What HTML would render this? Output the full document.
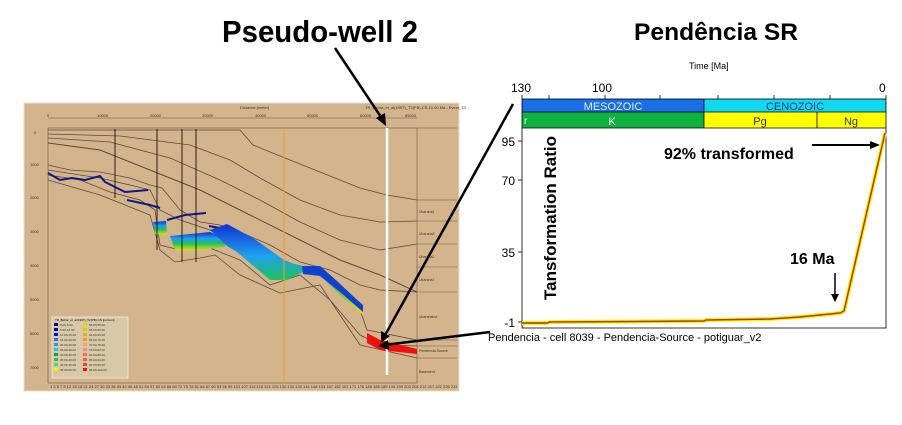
<!DOCTYPE html>
<html><head><meta charset="utf-8"><style>
html,body{margin:0;padding:0;background:#fff;}
svg{display:block;font-family:"Liberation Sans",Arial,sans-serif;}
</style></head><body>
<svg width="902" height="425" viewBox="0 0 902 425" xmlns="http://www.w3.org/2000/svg">
<defs>
<linearGradient id="g1" x1="0" y1="0" x2="0" y2="1">
<stop offset="0" stop-color="#1030d0"/><stop offset="0.35" stop-color="#20a0f0"/><stop offset="0.6" stop-color="#20c060"/><stop offset="1" stop-color="#f0e000"/>
</linearGradient>
</defs>
<text x="222" y="42" font-size="31" font-weight="bold" textLength="196" lengthAdjust="spacingAndGlyphs">Pseudo-well 2</text>
<text x="634" y="40" font-size="24" font-weight="bold" textLength="164" lengthAdjust="spacingAndGlyphs">Pendência SR</text>

<rect x="24" y="103" width="435" height="288" fill="#d4b48c" stroke="#e8dcc8"/>
<text x="240" y="109" font-size="4" fill="#333">Distance [meter]</text>
<text x="365" y="109" font-size="4" fill="#333">TR_Behar_et_al(1997)_T2(PB)-CS 10.00 Ma - Event_33</text>
<rect x="48" y="128" width="369" height="255" fill="none" stroke="#6a5a48" stroke-width="0.6"/>
<line x1="48" y1="118" x2="417" y2="118" stroke="#6a5a48" stroke-width="0.5"/>
<g font-size="4" fill="#333">
<text x="47" y="117">0</text><text x="97" y="117">10000</text><text x="150" y="117">20000</text><text x="202" y="117">30000</text><text x="255" y="117">40000</text><text x="307" y="117">50000</text><text x="360" y="117">60000</text><text x="405" y="117">65000</text>
<text x="34" y="134">0</text><text x="30" y="166">1000</text><text x="30" y="199">2000</text><text x="30" y="233">3000</text><text x="30" y="267">4000</text><text x="30" y="301">5000</text><text x="30" y="335">6000</text><text x="30" y="369">7000</text>
<text x="50" y="388">1 3 5 7 9 12 15 18 21 24 27 30 33 36 39 42 45 48 51 54 57 60 63 66 69 72 75 78 81 84 87 90 93 96 99 103 107 112 116 121 126 130 134 139 144 148 153 157 162 167 171 176 180 185 189 194 199 203 208 212 217 222 226 231</text>
</g>
<line x1="417" y1="128" x2="457" y2="128" stroke="#6a5a48" stroke-width="0.5"/>
<g stroke="#6a5a48" stroke-width="0.5">
<line x1="417" y1="200" x2="457" y2="200"/><line x1="417" y1="221" x2="457" y2="221"/><line x1="417" y1="244" x2="457" y2="244"/><line x1="417" y1="267" x2="457" y2="267"/><line x1="417" y1="292" x2="457" y2="292"/><line x1="417" y1="340" x2="457" y2="340"/><line x1="417" y1="346" x2="457" y2="346"/><line x1="417" y1="358" x2="457" y2="358"/>
</g>
<g font-size="3.5" fill="#333"><text x="419" y="213">Ubarana4</text><text x="419" y="235">Ubarana3</text><text x="419" y="258">Ubarana2</text><text x="419" y="281">Ubarana1</text><text x="419" y="318">Ubaranabot</text><text x="419" y="352">Pendencia-Source</text><text x="419" y="373">Basement</text></g>
<g fill="none" stroke="#5a4a3c" stroke-width="0.8">
<polyline points="48,130 240,130 253,145 290,160 320,172 360,188 387,195 417,200"/>
<polyline points="48,134 120,136 190,145 230,160 260,178 300,200 340,215 380,222 417,221"/>
<polyline points="48,138 110,142 170,158 220,180 260,200 300,222 340,240 380,250 417,244"/>
<polyline points="48,143 100,150 150,170 200,190 250,215 300,240 340,260 380,275 417,292" stroke-width="1"/>
<polyline points="48,165 70,170 100,172 130,178 150,185 162,188 180,210 200,222 220,225 240,232 270,245 300,262 330,270 360,285 380,290 417,292"/>
<polyline points="48,170 80,175 100,178 130,185 150,190 160,210 180,220 210,230 240,240 270,255 300,267 330,280 360,310 367,330 417,340"/>
<polyline points="48,175 80,180 110,192 140,200 155,210 160,245 180,250 210,248 240,260 270,285 300,275 330,300 360,335 380,345 417,346"/>
<polyline points="48,180 100,195 150,215 160,250 175,262 200,258 215,255 240,275 280,293 320,285 360,345 417,358"/>
</g>
<g stroke="#101888" stroke-width="2" fill="none">
<polyline points="48,173 60,180 72,178 85,180 100,176 105,182 125,192 148,190"/>
<polyline points="127,200 150,205 160,208"/>
<polyline points="167,220 185,215 206,213"/>
<polyline points="209,226 230,230 260,250 280,262 290,265"/>
</g>
<polygon points="153,222 166,221 167,235 155,234" fill="url(#g1)"/>
<polygon points="170,236 210,232 227,240 225,247 200,250 180,251 175,250" fill="url(#g1)"/>
<polygon points="210,230 227,224 253,238 287,262 303,266 320,267 337,282 363,305 363,315 340,295 320,275 303,272 287,280 270,280 237,252 227,246" fill="url(#g1)"/>
<polygon points="302,266 320,266 337,281 355,298 363,305 363,312 340,292 320,276 303,274" fill="#1040d0"/>
<polygon points="367,333 380,340 417,349 417,354 380,350 367,343" fill="#f01010"/>
<g stroke="#111" stroke-width="0.9">
<line x1="115" y1="129" x2="115" y2="198"/><line x1="157" y1="129" x2="157" y2="250"/><line x1="182" y1="129" x2="182" y2="262"/><line x1="196" y1="129" x2="196" y2="262"/>
</g>
<line x1="284" y1="129" x2="284" y2="383" stroke="#f0a020" stroke-width="1"/>
<line x1="387" y1="128" x2="387" y2="375" stroke="#fff" stroke-width="2.5"/>
<rect x="52" y="317" width="76" height="61" fill="#d8c8a8" stroke="#fff" stroke-width="0.5"/>
<text x="55" y="321" font-size="3">TR_Behar_et_al(1997)_T2(PB)-CS [percent]</text>
<g>
<rect x="54" y="323" width="4" height="3" fill="#000080"/><rect x="54" y="328" width="4" height="3" fill="#0000b0"/><rect x="54" y="333" width="4" height="3" fill="#0010e0"/><rect x="54" y="338" width="4" height="3" fill="#3070f0"/><rect x="54" y="343" width="4" height="3" fill="#20a0f0"/><rect x="54" y="348" width="4" height="3" fill="#20c0f0"/><rect x="54" y="353" width="4" height="3" fill="#10a040"/><rect x="54" y="358" width="4" height="3" fill="#20c060"/><rect x="54" y="363" width="4" height="3" fill="#40e060"/><rect x="54" y="368" width="4" height="3" fill="#f0f000"/>
<rect x="83" y="323" width="4" height="3" fill="#f0d000"/><rect x="83" y="328" width="4" height="3" fill="#f0c000"/><rect x="83" y="333" width="4" height="3" fill="#e0b020"/><rect x="83" y="338" width="4" height="3" fill="#f0a000"/><rect x="83" y="343" width="4" height="3" fill="#f0a080"/><rect x="83" y="348" width="4" height="3" fill="#f09070"/><rect x="83" y="353" width="4" height="3" fill="#f07050"/><rect x="83" y="358" width="4" height="3" fill="#f06040"/><rect x="83" y="363" width="4" height="3" fill="#f04030"/><rect x="83" y="368" width="4" height="3" fill="#f01010"/>
</g>
<g font-size="3" fill="#333">
<text x="60" y="326">0.00-5.00</text><text x="60" y="331">5.00-10.00</text><text x="60" y="336">10.00-15.00</text><text x="60" y="341">15.00-20.00</text><text x="60" y="346">20.00-25.00</text><text x="60" y="351">25.00-30.00</text><text x="60" y="356">30.00-35.00</text><text x="60" y="361">35.00-40.00</text><text x="60" y="366">40.00-45.00</text><text x="60" y="371">45.00-50.00</text>
<text x="89" y="326">50.00-55.00</text><text x="89" y="331">55.00-60.00</text><text x="89" y="336">60.00-65.00</text><text x="89" y="341">65.00-70.00</text><text x="89" y="346">70.00-75.00</text><text x="89" y="351">75.00-80.00</text><text x="89" y="356">80.00-85.00</text><text x="89" y="361">85.00-90.00</text><text x="89" y="366">90.00-95.00</text><text x="89" y="371">95.00-100.00</text>
</g>

<text x="689" y="69" font-size="9">Time [Ma]</text>
<g font-size="12"><text x="511" y="92">130</text><text x="592" y="92">100</text><text x="879" y="92">0</text></g>
<rect x="522" y="99" width="182" height="13" fill="#1a6ee6"/>
<rect x="704" y="99" width="182" height="13" fill="#10d8f0"/>
<rect x="522" y="112" width="182" height="16" fill="#10b040"/>
<rect x="704" y="112" width="113" height="16" fill="#ffff00"/>
<rect x="817" y="112" width="69" height="16" fill="#ffff00"/>
<g stroke="#000" stroke-width="0.8" fill="none">
<rect x="522" y="99" width="364" height="229"/>
<line x1="522" y1="112" x2="886" y2="112"/><line x1="522" y1="128" x2="886" y2="128"/>
<line x1="704" y1="99" x2="704" y2="128"/><line x1="817" y1="112" x2="817" y2="128"/>
<line x1="522" y1="95" x2="522" y2="99"/><line x1="549" y1="95" x2="549" y2="99"/><line x1="605" y1="95" x2="605" y2="99"/><line x1="660" y1="95" x2="660" y2="99"/><line x1="718" y1="95" x2="718" y2="99"/><line x1="774" y1="95" x2="774" y2="99"/><line x1="830" y1="95" x2="830" y2="99"/><line x1="886" y1="95" x2="886" y2="99"/>
<line x1="518" y1="141" x2="522" y2="141"/><line x1="518" y1="180" x2="522" y2="180"/><line x1="518" y1="252" x2="522" y2="252"/><line x1="518" y1="322" x2="522" y2="322"/>
</g>
<g font-size="11" fill="#fff" text-anchor="middle"><text x="613" y="110" fill="#e0f0ff">MESOZOIC</text><text x="612" y="125">K</text></g>
<g font-size="11" text-anchor="middle"><text x="795" y="110" fill="#0a3a80">CENOZOIC</text><text x="760" y="125" fill="#333">Pg</text><text x="851" y="125" fill="#333">Ng</text></g>
<text x="524" y="124" font-size="10" fill="#fff">r</text>
<g font-size="12" text-anchor="end"><text x="515" y="146">95</text><text x="515" y="185">70</text><text x="515" y="257">35</text><text x="515" y="327">-1</text></g>
<text transform="translate(556,300) rotate(-90)" font-size="17" font-weight="bold">Tansformation  Ratio</text>
<text x="664" y="159" font-size="16" font-weight="bold">92% transformed</text>
<line x1="812" y1="145" x2="872" y2="145" stroke="#000" stroke-width="2"/>
<polygon points="880,145 870,141 870,149" fill="#000"/>
<text x="790" y="264" font-size="16" font-weight="bold">16 Ma</text>
<line x1="835" y1="273" x2="835" y2="295" stroke="#000" stroke-width="1.5"/>
<polygon points="835,302 831,294 839,294" fill="#000"/>
<polyline points="522,323 547,323 550,322 704,321 706,320 770,319 800,317 840,313 844,311 885,133" fill="none" stroke="#ffee00" stroke-width="4"/>
<polyline points="522,323 547,323 550,322 704,321 706,320 770,319 800,317 840,313 844,311 885,133" fill="none" stroke="#a04000" stroke-width="1.5"/>
<text x="488" y="341" font-size="11">Pendencia - cell 8039 - Pendencia-Source - potiguar_v2</text>

<g stroke="#000" stroke-width="2.5" fill="none">
<line x1="335" y1="48" x2="383" y2="120"/>
<line x1="513" y1="104" x2="384" y2="337"/>
<line x1="490" y1="332" x2="384" y2="345"/>
</g>
<polygon points="386,126 376,118 385,113" fill="#000"/>
<polygon points="381,343 381,331 390,336" fill="#000"/>
<polygon points="378,346 388,340 389,350" fill="#000"/>
</svg>
</body></html>
